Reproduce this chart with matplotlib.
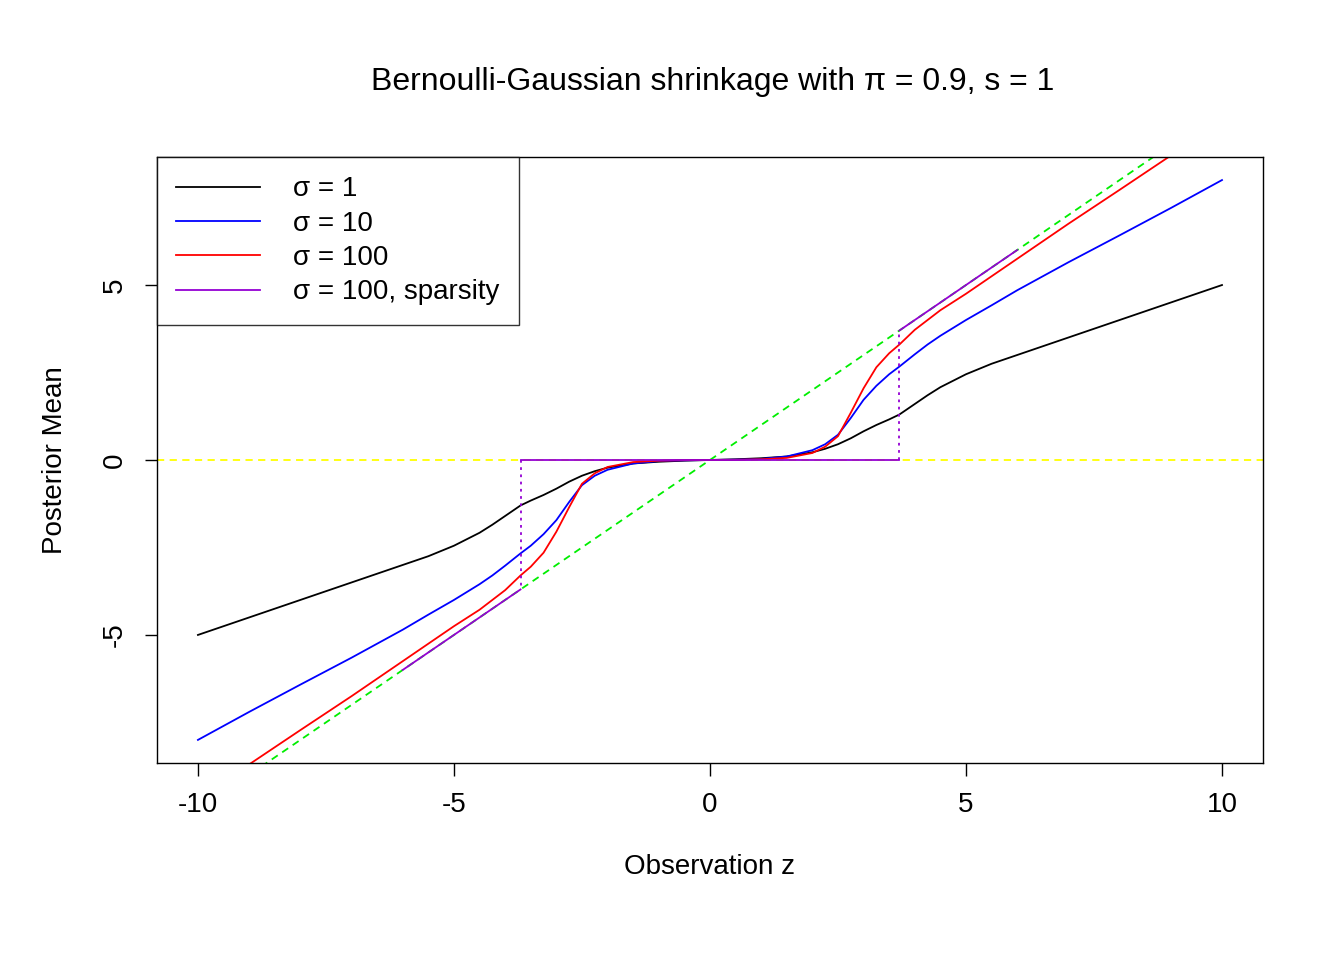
import matplotlib
matplotlib.use("Agg")
import matplotlib.pyplot as plt

plt.rcParams['font.family'] = ['Liberation Sans', 'DejaVu Sans']
plt.rcParams['axes.unicode_minus'] = False

# positive half (curves are odd-symmetric)
z_pos = [0, 0.5, 1, 1.5, 2, 2.25, 2.5, 2.75, 3, 3.25, 3.5, 3.7, 4, 4.25, 4.5, 5, 5.5, 6, 7, 8, 9, 10]
black_pos = [0, .02, .05, .1, .22, .32, .45, .62, .82, 1.0, 1.16, 1.3, 1.6, 1.85, 2.08, 2.45, 2.75, 3.0, 3.5, 4.0, 4.5, 5.0]
blue_pos = [0, .01, .03, .1, .28, .45, .72, 1.2, 1.72, 2.12, 2.45, 2.67, 3.02, 3.3, 3.55, 4.0, 4.42, 4.85, 5.65, 6.42, 7.2, 8.0]
red_pos = [0, .005, .02, .06, .2, .38, .68, 1.35, 2.05, 2.65, 3.05, 3.3, 3.72, 4.0, 4.28, 4.75, 5.25, 5.75, 6.75, 7.72, 8.7, 9.7]
thresh = 3.7
sparse_end = 6.0

def full(xs, ys):
    x = [-v for v in xs[::-1]] + xs[1:]
    y = [-v for v in ys[::-1]] + ys[1:]
    return x, y

fig = plt.figure(figsize=(13.44, 9.6), dpi=100)
ax = fig.add_axes([0.1168, 0.2052, 0.8229, 0.6313])
ax.set_xlim(-10.8, 10.8)
ax.set_ylim(-8.66, 8.66)

ax.plot([-10.8, 10.8], [0, 0], color='yellow', ls=(0, (4, 3)), lw=1.3)
ax.plot([-10.8, 10.8], [-10.8, 10.8], color='#00ee00', ls=(0, (4, 3)), lw=1.3)
x, y = full(z_pos, black_pos); ax.plot(x, y, color='black', lw=1.3, label='σ = 1')
x, y = full(z_pos, blue_pos); ax.plot(x, y, color='blue', lw=1.3, label='σ = 10')
x, y = full(z_pos, red_pos); ax.plot(x, y, color='red', lw=1.3, label='σ = 100')
pc = '#9400d3'
ax.plot([-thresh, thresh], [0, 0], color=pc, lw=1.3, label='σ = 100, sparsity')
ax.plot([thresh, sparse_end], [thresh, sparse_end], color=pc, lw=1.3)
ax.plot([-sparse_end, -thresh], [-sparse_end, -thresh], color=pc, lw=1.3)
ax.plot([thresh, thresh], [0, thresh], color=pc, lw=1.3, ls=(0, (1.5, 2.5)))
ax.plot([-thresh, -thresh], [0, -thresh], color=pc, lw=1.3, ls=(0, (1.5, 2.5)))

ax.set_xticks([-10, -5, 0, 5, 10])
ax.set_xticklabels(['-10', '-5', '0', '5', '10'])
ax.set_yticks([-5, 0, 5])
ax.set_yticklabels(['-5', '0', '5'], rotation=90, va='center')
ax.tick_params(labelsize=20, length=9, width=1, pad=12)
for s in ax.spines.values():
    s.set_linewidth(1)
ax.set_xlabel('Observation z', fontsize=20, labelpad=26)
ax.set_ylabel('Posterior Mean', fontsize=20, labelpad=24)
fig.text(0.53, 0.906, 'Bernoulli-Gaussian shrinkage with π = 0.9, s = 1', ha='center', fontsize=23)
leg = ax.legend(loc='upper left', fontsize=20, frameon=True, fancybox=False,
                borderaxespad=0, handlelength=3, borderpad=0.7, labelspacing=0.3,
                handletextpad=1.2)
leg.get_frame().set_edgecolor('black')
leg.get_frame().set_linewidth(1)
fig.savefig('out.png', dpi=100)
